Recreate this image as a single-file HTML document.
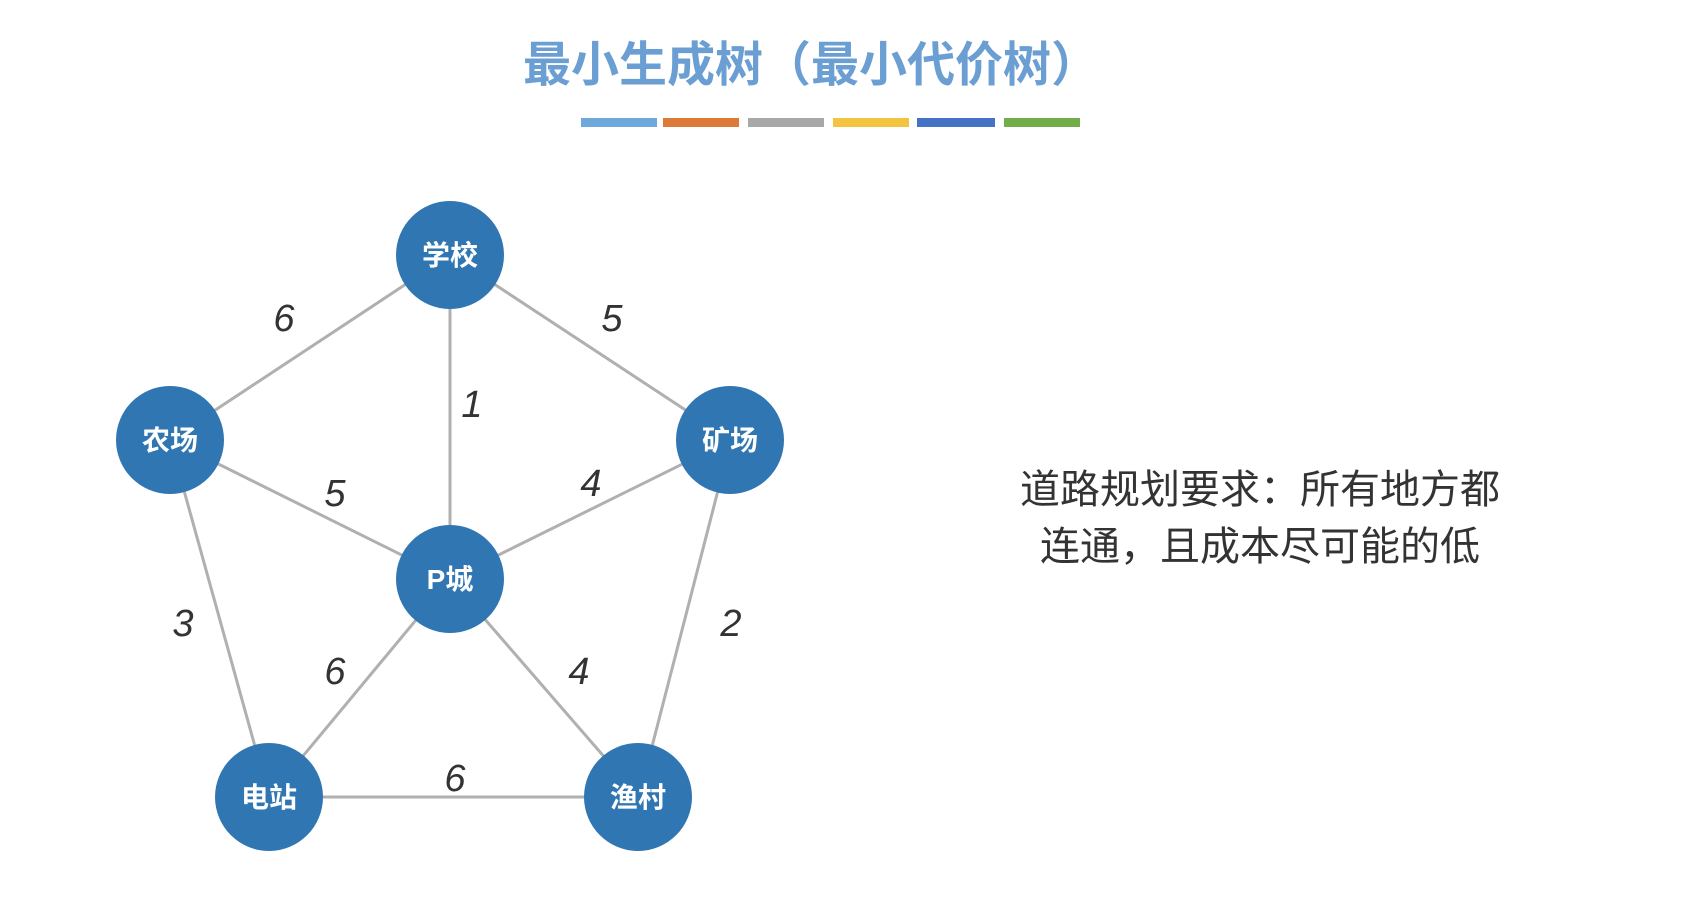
<!DOCTYPE html>
<html><head><meta charset="utf-8"><style>
body{margin:0;width:1682px;height:918px;background:#fff;overflow:hidden;position:relative;font-family:"Liberation Sans","Noto Sans CJK SC",sans-serif}
.t{position:absolute;white-space:nowrap}
</style></head><body>
<div class="t" style="left:0;top:36px;width:1622px;text-align:center;font-size:48px;font-weight:bold;color:#6b9fd3;line-height:60px">最小生成树（最小代价树）</div>
<div style="position:absolute;left:581px;top:118px;width:76px;height:9px;background:#6fa8dc"></div>
<div style="position:absolute;left:663px;top:118px;width:76px;height:9px;background:#dd7a3a"></div>
<div style="position:absolute;left:748px;top:118px;width:76px;height:9px;background:#a8a8a8"></div>
<div style="position:absolute;left:833px;top:118px;width:76px;height:9px;background:#f3c440"></div>
<div style="position:absolute;left:917px;top:118px;width:78px;height:9px;background:#4472c4"></div>
<div style="position:absolute;left:1004px;top:118px;width:76px;height:9px;background:#72ad4a"></div>
<svg width="1682" height="918" style="position:absolute;left:0;top:0">
<g stroke="#b0b0b0" stroke-width="3">
<line x1="450" y1="255" x2="170" y2="440"/>
<line x1="450" y1="255" x2="731" y2="440"/>
<line x1="450" y1="255" x2="450" y2="579"/>
<line x1="170" y1="440" x2="450" y2="579"/>
<line x1="731" y1="440" x2="450" y2="579"/>
<line x1="170" y1="440" x2="269" y2="797"/>
<line x1="731" y1="440" x2="639" y2="797"/>
<line x1="450" y1="579" x2="269" y2="797"/>
<line x1="450" y1="579" x2="639" y2="797"/>
<line x1="269" y1="797" x2="639" y2="797"/>
</g>
<g fill="#2f76b3">
<circle cx="450" cy="255" r="54"/><circle cx="170" cy="440" r="54"/><circle cx="730" cy="440" r="54"/>
<circle cx="450" cy="579" r="54"/><circle cx="269" cy="797" r="54"/><circle cx="638" cy="797" r="54"/>
</g>
<g fill="#fff" font-size="28" font-weight="bold" text-anchor="middle" font-family="Liberation Sans,Noto Sans CJK SC,sans-serif">
<text x="450" y="265">学校</text><text x="170" y="450">农场</text><text x="730" y="450">矿场</text>
<text x="450" y="589">P城</text><text x="269" y="807">电站</text><text x="638" y="807">渔村</text>
</g>
<g fill="#333" font-size="38" font-style="italic" text-anchor="middle" font-family="Liberation Sans,sans-serif">
<text x="284" y="331">6</text><text x="612" y="331">5</text><text x="472" y="417">1</text>
<text x="335" y="506">5</text><text x="591" y="496">4</text><text x="183" y="636">3</text>
<text x="731" y="636">2</text><text x="335" y="684">6</text><text x="579" y="684">4</text><text x="455" y="791">6</text>
</g>
</svg>
<div class="t" style="left:1020px;top:464px;font-size:40px;color:#333;line-height:52px">道路规划要求：所有地方都</div>
<div class="t" style="left:1040px;top:521px;font-size:40px;color:#333;line-height:52px">连通，且成本尽可能的低</div>
</body></html>
